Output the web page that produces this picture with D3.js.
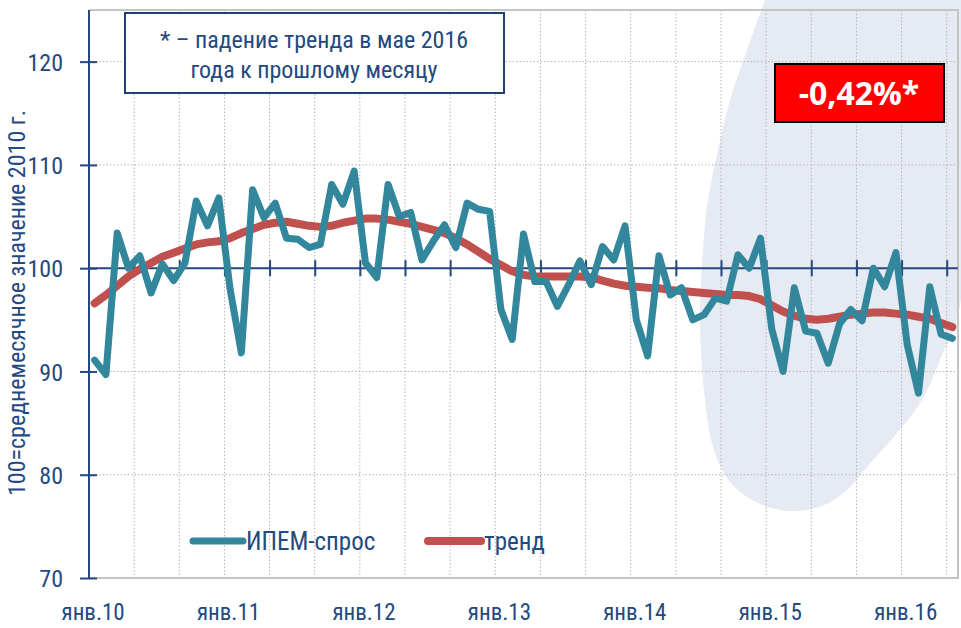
<!DOCTYPE html>
<html><head><meta charset="utf-8">
<script src="https://cdn.jsdelivr.net/npm/d3@7"></script>
<style>
html,body{margin:0;padding:0;background:#fff;}
svg{display:block;}
text{font-family:"Liberation Sans Narrow","Arial Narrow","Roboto Condensed","Liberation Sans",sans-serif;}
</style></head>
<body>
<svg id="chart" width="961" height="628"></svg>
<script>
// ---- data ----
const yearLabels = ["янв.10","янв.11","янв.12","янв.13","янв.14","янв.15","янв.16"];
const demand = [
 91.1, 89.7, 103.4, 100.0, 101.2, 97.6, 100.4, 98.8, 100.5, 106.5, 104.1, 106.8,
 98.0, 91.8, 107.6, 104.9, 106.3, 102.9, 102.8, 102.0, 102.3, 108.1, 106.2, 109.4,
 100.5, 99.1, 108.1, 105.0, 105.4, 100.8, 102.6, 104.2, 102.0, 106.3, 105.7, 105.5,
 96.0, 93.1, 103.3, 98.7, 98.7, 96.3, 98.4, 100.7, 98.4, 102.1, 100.8, 104.1,
 95.0, 91.5, 101.2, 97.4, 98.1, 95.0, 95.5, 97.1, 96.8, 101.3, 100.0, 102.9,
 94.1, 90.0, 98.1, 93.9, 93.7, 90.8, 94.6, 96.0, 94.9, 100.0, 98.2, 101.5,
 92.6, 87.9, 98.2, 93.6, 93.2
];
const trend = [
 96.6, 97.4, 98.3, 99.2, 99.9, 100.5, 101.1, 101.5, 101.9, 102.3, 102.5, 102.6,
 102.9, 103.4, 103.8, 104.2, 104.4, 104.5, 104.3, 104.1, 104.0, 104.1, 104.4, 104.6,
 104.8, 104.8, 104.7, 104.5, 104.3, 104.0, 103.7, 103.4, 102.9, 102.3, 101.6, 100.9,
 100.3, 99.7, 99.35, 99.2, 99.2, 99.2, 99.2, 99.2, 99.1, 98.8, 98.5, 98.3,
 98.2, 98.1, 98.05, 97.9, 97.8, 97.7, 97.6, 97.5, 97.4, 97.4, 97.3, 97.0,
 96.4, 95.8, 95.4, 95.1, 95.0, 95.1, 95.3, 95.5, 95.6, 95.7, 95.7, 95.6,
 95.5, 95.3, 95.1, 94.7, 94.3
];
const yTicks = [70, 80, 90, 100, 110, 120];
const seriesNames = ["ИПЕМ-спрос", "тренд"];
const noteLines = ["* – падение тренда в мае 2016", "года к прошлому месяцу"];
const badgeText = "-0,42%*";

// ---- layout ----
const L = 89, R = 958, T = 10, B = 578;
const C_TEXT = "#23497f", C_AXIS = "#24477f", C_TEAL = "#33879c", C_RED = "#c0504d";

const svg = d3.select("#chart");
const n = demand.length;
const xi = d3.scaleLinear().domain([0, n]).range([L, R]);
const y = d3.scaleLinear().domain([70, 125]).range([B, T]);

// background watermark blob (decorative)
const blob = [[765,0],[747,50],[730,100],[718,150],[708,200],[703,250],[700,320],[705,400],[714,450],[730,482],[758,503],[790,511],[822,506],[847,490],[867,467],[897,433],[922,400],[940,360],[960,305],[961,0]];
svg.append("path")
  .attr("d", d3.line().curve(d3.curveCatmullRom)(blob) + "Z")
  .attr("fill", "#e6eaf3");

// grid
const gridG = svg.append("g");
const vIdx = d3.range(4, n, 4);
gridG.selectAll("line.v").data(vIdx).join("line")
  .attr("x1", d => xi(d)).attr("x2", d => xi(d))
  .attr("y1", T).attr("y2", B)
  .attr("stroke", "#b4b4b4").attr("stroke-width", 1).attr("stroke-dasharray", "1.5,2");
gridG.selectAll("line.h").data(yTicks.filter(v => v !== 70 && v !== 100)).join("line")
  .attr("x1", L).attr("x2", R)
  .attr("y1", d => y(d)).attr("y2", d => y(d))
  .attr("stroke", "#b4b4b4").attr("stroke-width", 1).attr("stroke-dasharray", "1.5,2");

// plot border (gray)
svg.append("path")
  .attr("d", `M${L},${T}H${R}V${B}H${L}`)
  .attr("fill", "none").attr("stroke", "#c4c4c4").attr("stroke-width", 2);

// y axis
const yAxis = d3.axisLeft(y).tickValues(yTicks).tickSize(9).tickPadding(17).tickFormat(d3.format("d"));
const yG = svg.append("g").attr("transform", `translate(${L},0)`).call(yAxis);
yG.select(".domain").attr("stroke", C_AXIS).attr("stroke-width", 2).attr("d", `M0,${T}V${B}`);
yG.selectAll(".tick line").attr("stroke", C_AXIS).attr("stroke-width", 2).attr("x2", -9).attr("x1", 8);
yG.selectAll(".tick text").attr("fill", C_TEXT).style("font-size", "24px")
  .attr("font-family", null).attr("dy", "0.36em");

// horizontal category axis crossing at 100 (tick marks)
const xTickAxis = d3.axisBottom(xi).tickValues(d3.range(4, n, 4)).tickSize(8).tickFormat("");
const xG = svg.append("g").attr("transform", `translate(0,${y(100)})`).call(xTickAxis);
xG.select(".domain").attr("stroke", C_AXIS).attr("stroke-width", 2).attr("d", `M${L},0H${R}`);
xG.selectAll(".tick line").attr("stroke", C_AXIS).attr("stroke-width", 2).attr("y1", -8).attr("y2", 8);

// x labels at the bottom
const labIdx = yearLabels.map((_, k) => k * 12 + 0.5);
const xLab = d3.axisBottom(xi).tickValues(labIdx).tickSize(0).tickPadding(0)
  .tickFormat((d, k) => yearLabels[k]);
const xlG = svg.append("g").attr("transform", `translate(-2,${B})`).call(xLab);
xlG.select(".domain").remove();
xlG.selectAll(".tick text").attr("fill", C_TEXT).style("font-size", "23px")
  .attr("font-family", null).attr("y", 42).attr("dy", 0);

// y title
svg.append("text")
  .attr("transform", `translate(25,${(T + B) / 2 + 9}) rotate(-90)`)
  .attr("text-anchor", "middle").attr("fill", C_TEXT).style("font-size", "24px")
  .text("100=среднемесячное значение 2010 г.");

// lines
const line = d3.line().x((d, i) => xi(i + 0.5)).y(d => y(d));
svg.append("path").datum(trend).attr("d", line)
  .attr("fill", "none").attr("stroke", C_RED).attr("stroke-width", 8)
  .attr("stroke-linejoin", "round").attr("stroke-linecap", "round");
svg.append("path").datum(demand).attr("d", line)
  .attr("fill", "none").attr("stroke", C_TEAL).attr("stroke-width", 7)
  .attr("stroke-linejoin", "round").attr("stroke-linecap", "round");

// legend
const legend = [
  {name: seriesNames[0], color: C_TEAL, x1: 193, x2: 243, tx: 246, w: 7},
  {name: seriesNames[1], color: C_RED, x1: 428, x2: 481, tx: 484, w: 8}
];
const lg = svg.append("g");
legend.forEach(d => {
  lg.append("line").attr("x1", d.x1).attr("x2", d.x2).attr("y1", 541).attr("y2", 541)
    .attr("stroke", d.color).attr("stroke-width", d.w).attr("stroke-linecap", "round");
  lg.append("text").attr("x", d.tx).attr("y", 550).attr("fill", C_TEXT)
    .style("font-size", "25px").text(d.name);
});

// note box
svg.append("rect").attr("x", 125).attr("y", 13).attr("width", 379).attr("height", 80)
  .attr("fill", "#fff").attr("stroke", "#1f3f73").attr("stroke-width", 2);
noteLines.forEach((t, k) => {
  svg.append("text").attr("x", 314).attr("y", 48 + k * 30).attr("text-anchor", "middle")
    .attr("fill", C_TEXT).style("font-size", "24px").text(t);
});

// badge
svg.append("rect").attr("x", 775).attr("y", 64).attr("width", 169).attr("height", 58)
  .attr("fill", "#ff0000").attr("stroke", "#000").attr("stroke-width", 2);
svg.append("text").attr("x", 859).attr("y", 105).attr("text-anchor", "middle")
  .attr("fill", "#fff").style("font-family", "'Open Sans', sans-serif")
  .style("font-weight", "700").style("font-size", "32px").text(badgeText);
</script>
</body></html>
